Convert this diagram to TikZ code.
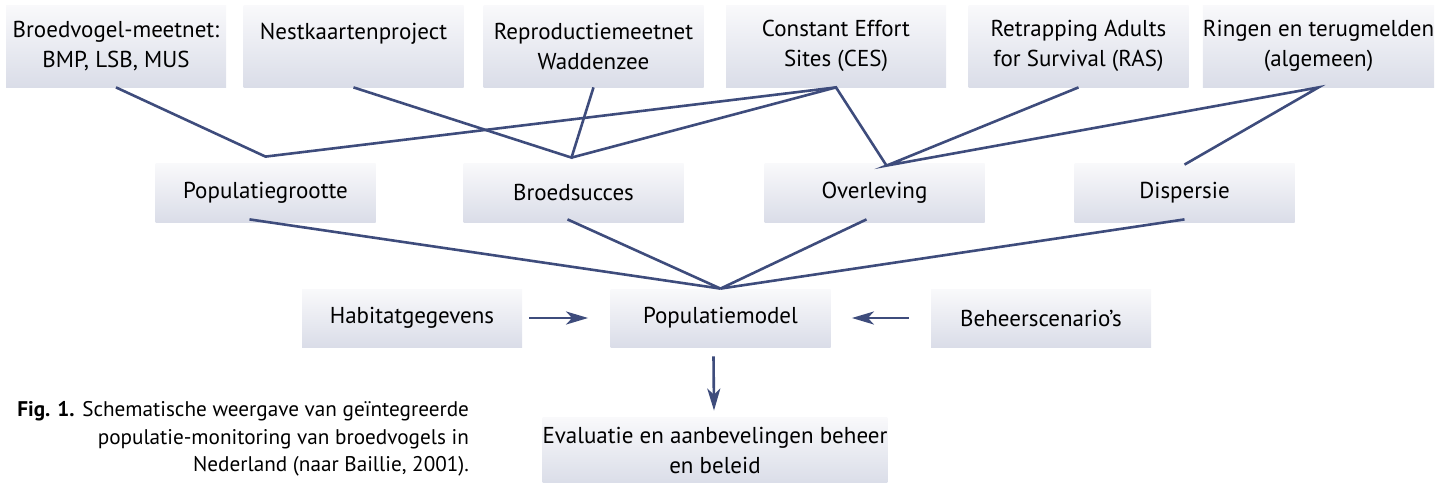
\documentclass[tikz,border=0pt]{standalone}
\usepackage{fontspec}
\setmainfont{PT Sans}
\usetikzlibrary{arrows.meta,calc}

\definecolor{linkblue}{RGB}{62,76,124}
\definecolor{boxtop}{RGB}{249,249,251}
\definecolor{boxbottom}{RGB}{218,221,232}

\begin{document}
\begin{tikzpicture}[x=0.5pt,y=-0.5pt]
% Diagram style
\tikzset{
    box/.style={rectangle, top color=boxtop, bottom color=boxbottom,
        inner sep=0pt, minimum width=110pt, align=center,
        font=\fontsize{11.5}{15}\selectfont},
    source/.style={box, minimum height=41pt},
    rate/.style={box, minimum height=29.5pt},
    input/.style={box, minimum height=29pt},
    link/.style={draw=linkblue, line width=1.3pt},
    feed/.style={link, -{Stealth[length=11pt,width=6.5pt,inset=3pt]}}
}
\useasboundingbox (0,0) rectangle (1440,482);

% Data sources
\node[source] (BMP) at (116,46) {Broedvogel-meetnet:\\BMP, LSB, MUS};
\node[source] (NKP) at (353.5,46) {Nestkaartenproject\\\mbox{}};
\node[source] (RMW) at (593.5,46) {Reproductiemeetnet\\Waddenzee};
\node[source] (CES) at (836,46) {Constant Effort\\Sites (CES)};
\node[source] (RAS) at (1078.5,46) {Retrapping Adults\\for Survival (RAS)};
\node[source] (RING) at (1318.5,46) {Ringen en terugmelden\\(algemeen)};

% Demographic rates
\node[rate] (grootte) at (265.5,192.5) {Populatiegrootte};
\node[rate] (succes) at (573.5,192.5) {Broedsucces};
\node[rate] (overleving) at (874.5,192.5) {Overleving};
\node[rate] (dispersie) at (1184.5,192.5) {Dispersie};

% Model
\node[input] (habitat) at (412,318) {Habitatgegevens};
\node[input] (model) at (720.5,318) {Populatiemodel};
\node[input] (beheer) at (1041,318) {Beheerscenario's};
\node[box, minimum width=172pt, minimum height=33.5pt] (evaluatie) at (715,450.5)
    {Evaluatie en aanbevelingen beheer\\en beleid};

% Caption
\node[align=right, anchor=east, font=\fontsize{10.6}{13.8}\selectfont] (caption) at (476,439)
    {\textbf{Fig. 1.} Schematische weergave van geïntegreerde\\
     populatie-monitoring van broedvogels in\\
     Nederland (naar Baillie, 2001).};

% Meeting points
\coordinate (grootteIn) at ($(grootte.north)+(0,-6)$);
\coordinate (succesIn) at ($(succes.north)+(-2,-5)$);
\coordinate (overlevingIn) at ($(overleving.north)+(12,3)$);
\coordinate (dispersieIn) at ($(dispersie.north)+(0,2)$);

% Connection
\draw[link] (BMP.south) -- (grootteIn) -- (CES.south);
\draw[link] (NKP.south) -- (succesIn) -- (RMW.south);
\draw[link] (succesIn) -- (CES.south) -- (overlevingIn);
\draw[link] (RAS.south) -- (overlevingIn) -- (RING.south) -- (dispersieIn);

\draw[link] ($(grootte.south)+(-16,-3)$) -- (model.north);
\draw[link] ($(succes.south)+(-6,-3)$) -- (model.north);
\draw[link] ($(overleving.south)+(-8,-3)$) -- (model.north);
\draw[link] ($(dispersie.south)+(0,-3)$) -- (model.north);

\draw[feed] ($(habitat.east)+(7,0)$) -- ($(model.west)+(-22,0)$);
\draw[feed] ($(beheer.west)+(-22,0)$) -- ($(model.east)+(21,0)$);
\draw[feed] ($(model.south)+(-7,9)$) -- ($(evaluatie.north)+(-1,-6)$);

\end{tikzpicture}
\end{document}
